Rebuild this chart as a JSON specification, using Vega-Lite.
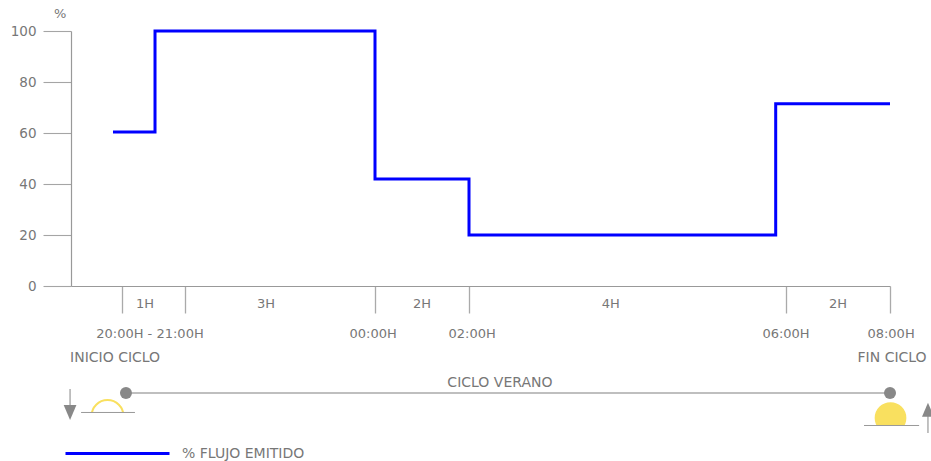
{
"$schema":"https://vega.github.io/schema/vega-lite/v6.json",
"width":819,"height":255,
"autosize":{"type":"none"},
"padding":{"left":71,"top":31,"right":41,"bottom":175},
"background":"white",
"config":{"view":{"stroke":null},"text":{"font":"DejaVu Sans"}},
"layer":[
{"data":{"values":[
{"h":-0.143,"v":60.4,"serie":"% FLUJO EMITIDO"},
{"h":0.524,"v":100,"serie":"% FLUJO EMITIDO"},
{"h":4,"v":42,"serie":"% FLUJO EMITIDO"},
{"h":6,"v":20,"serie":"% FLUJO EMITIDO"},
{"h":9.87,"v":71.5,"serie":"% FLUJO EMITIDO"},
{"h":12,"v":71.5,"serie":"% FLUJO EMITIDO"}]},
"mark":{"type":"line","interpolate":"step-after","strokeWidth":3,"strokeCap":"butt","strokeJoin":"miter"},
"encoding":{
"x":{"field":"h","type":"quantitative","scale":{"domain":[-0.81,0,1,4,6,10,12],"range":[0,51,114,304,398,715,819],"nice":false,"zero":false},
"axis":{"title":null,"values":[0,1,4,6,10,12],"labels":false,"grid":false,"tickSize":27,"tickColor":"#aaaaaa","tickWidth":1.3,"domainColor":"#999999","domainWidth":1.2}},
"y":{"field":"v","type":"quantitative","scale":{"domain":[0,100],"nice":false,"zero":false},
"axis":{"title":null,"values":[0,10,20,30,40,50,60,70,80,90,100],"labelExpr":"datum.value % 20 === 0 ? datum.label : ''","grid":false,"tickSize":28,"tickColor":"#a5a5a5","tickWidth":1.1,"domainColor":"#999999","domainWidth":1.2,"labelFont":"DejaVu Sans","labelFontSize":13.5,"labelColor":"#777777","labelPadding":7}},
"color":{"field":"serie","type":"nominal","scale":{"range":["#0000ff"]},
"legend":{"title":null,"orient":"none","legendX":-7,"legendY":369,"symbolType":"stroke","symbolSize":10816,"symbolStrokeWidth":3,"labelFont":"DejaVu Sans","labelFontSize":14,"labelColor":"#777777","labelOffset":11}}
}},
{"data":{"values":[
{"h":0.063,"h2":12,"v":-41.96}]},
"mark":{"type":"rule","color":"#aaaaaa","strokeWidth":1.5},
"encoding":{"x":{"field":"h","type":"quantitative"},"x2":{"field":"h2"},"y":{"field":"v","type":"quantitative"}}},
{"data":{"values":[{"h":0.063,"v":-41.96},{"h":12,"v":-41.96}]},
"mark":{"type":"point","shape":"circle","filled":true,"color":"#888888","size":144,"opacity":1},
"encoding":{"x":{"field":"h","type":"quantitative"},"y":{"field":"v","type":"quantitative"}}},
{"data":{"values":[{"h":-0.23,"v":-50.98}]},
"mark":{"type":"point","shape":"circle","filled":false,"stroke":"#f9e05f","strokeWidth":2,"size":1024,"opacity":1},
"encoding":{"x":{"field":"h","type":"quantitative"},"y":{"field":"v","type":"quantitative"}}},
{"data":{"values":[{"h":12.01,"v":-51.76}]},
"mark":{"type":"point","shape":"circle","filled":true,"color":"#f9e05f","size":1005,"opacity":1},
"encoding":{"x":{"field":"h","type":"quantitative"},"y":{"field":"v","type":"quantitative"}}},
{"data":{"values":[{"h":-0.587,"h2":0.127,"v":-49.8,"v2":-58},{"h":11.62,"h2":12.42,"v":-54.9,"v2":-58.8}]},
"mark":{"type":"rect","color":"white"},
"encoding":{"x":{"field":"h","type":"quantitative"},"x2":{"field":"h2"},"y":{"field":"v","type":"quantitative"},"y2":{"field":"v2"}}},
{"data":{"values":[{"h":-0.65,"h2":0.206,"v":-49.6},{"h":11.5,"h2":12.56,"v":-54.7}]},
"mark":{"type":"rule","color":"#999999","strokeWidth":1},
"encoding":{"x":{"field":"h","type":"quantitative"},"x2":{"field":"h2"},"y":{"field":"v","type":"quantitative"}}},
{"data":{"values":[{"h":-0.825,"v":-40.4,"v2":-49.6},{"h":12.73,"v":-57.6,"v2":-50.6}]},
"mark":{"type":"rule","color":"#999999","strokeWidth":1.2},
"encoding":{"x":{"field":"h","type":"quantitative"},"y":{"field":"v","type":"quantitative"},"y2":{"field":"v2"}}},
{"data":{"values":[{"h":-0.825,"v":-49.6}]},
"mark":{"type":"point","shape":"M-0.85,-1L0.85,-1L0,1Z","filled":true,"color":"#888888","size":225,"opacity":1},
"encoding":{"x":{"field":"h","type":"quantitative"},"y":{"field":"v","type":"quantitative"}}},
{"data":{"values":[{"h":12.73,"v":-48.5}]},
"mark":{"type":"point","shape":"M-0.85,1L0.85,1L0,-1Z","filled":true,"color":"#888888","size":196,"opacity":1},
"encoding":{"x":{"field":"h","type":"quantitative"},"y":{"field":"v","type":"quantitative"}}},
{"data":{"values":[
{"h":-0.98,"v":106.7,"t":"%"},
{"h":0.365,"v":-7.06,"t":"1H"},
{"h":2.28,"v":-7.06,"t":"3H"},
{"h":5,"v":-7.06,"t":"2H"},
{"h":7.79,"v":-7.06,"t":"4H"},
{"h":11,"v":-7.06,"t":"2H"},
{"h":0.444,"v":-18.8,"t":"20:00H - 21:00H"},
{"h":3.97,"v":-18.8,"t":"00:00H"},
{"h":6.04,"v":-18.8,"t":"02:00H"},
{"h":10,"v":-18.8,"t":"06:00H"},
{"h":12.02,"v":-18.8,"t":"08:00H"}]},
"mark":{"type":"text","font":"DejaVu Sans","fontSize":13,"color":"#777777","align":"center","baseline":"middle"},
"encoding":{"x":{"field":"h","type":"quantitative"},"y":{"field":"v","type":"quantitative"},"text":{"field":"t","type":"nominal"}}},
{"data":{"values":[
{"h":-0.11,"v":-28.2,"t":"INICIO CICLO"},
{"h":12.04,"v":-28.2,"t":"FIN CICLO"},
{"h":6.39,"v":-38,"t":"CICLO VERANO"}]},
"mark":{"type":"text","font":"DejaVu Sans","fontSize":14,"color":"#777777","align":"center","baseline":"middle"},
"encoding":{"x":{"field":"h","type":"quantitative"},"y":{"field":"v","type":"quantitative"},"text":{"field":"t","type":"nominal"}}}
]}
